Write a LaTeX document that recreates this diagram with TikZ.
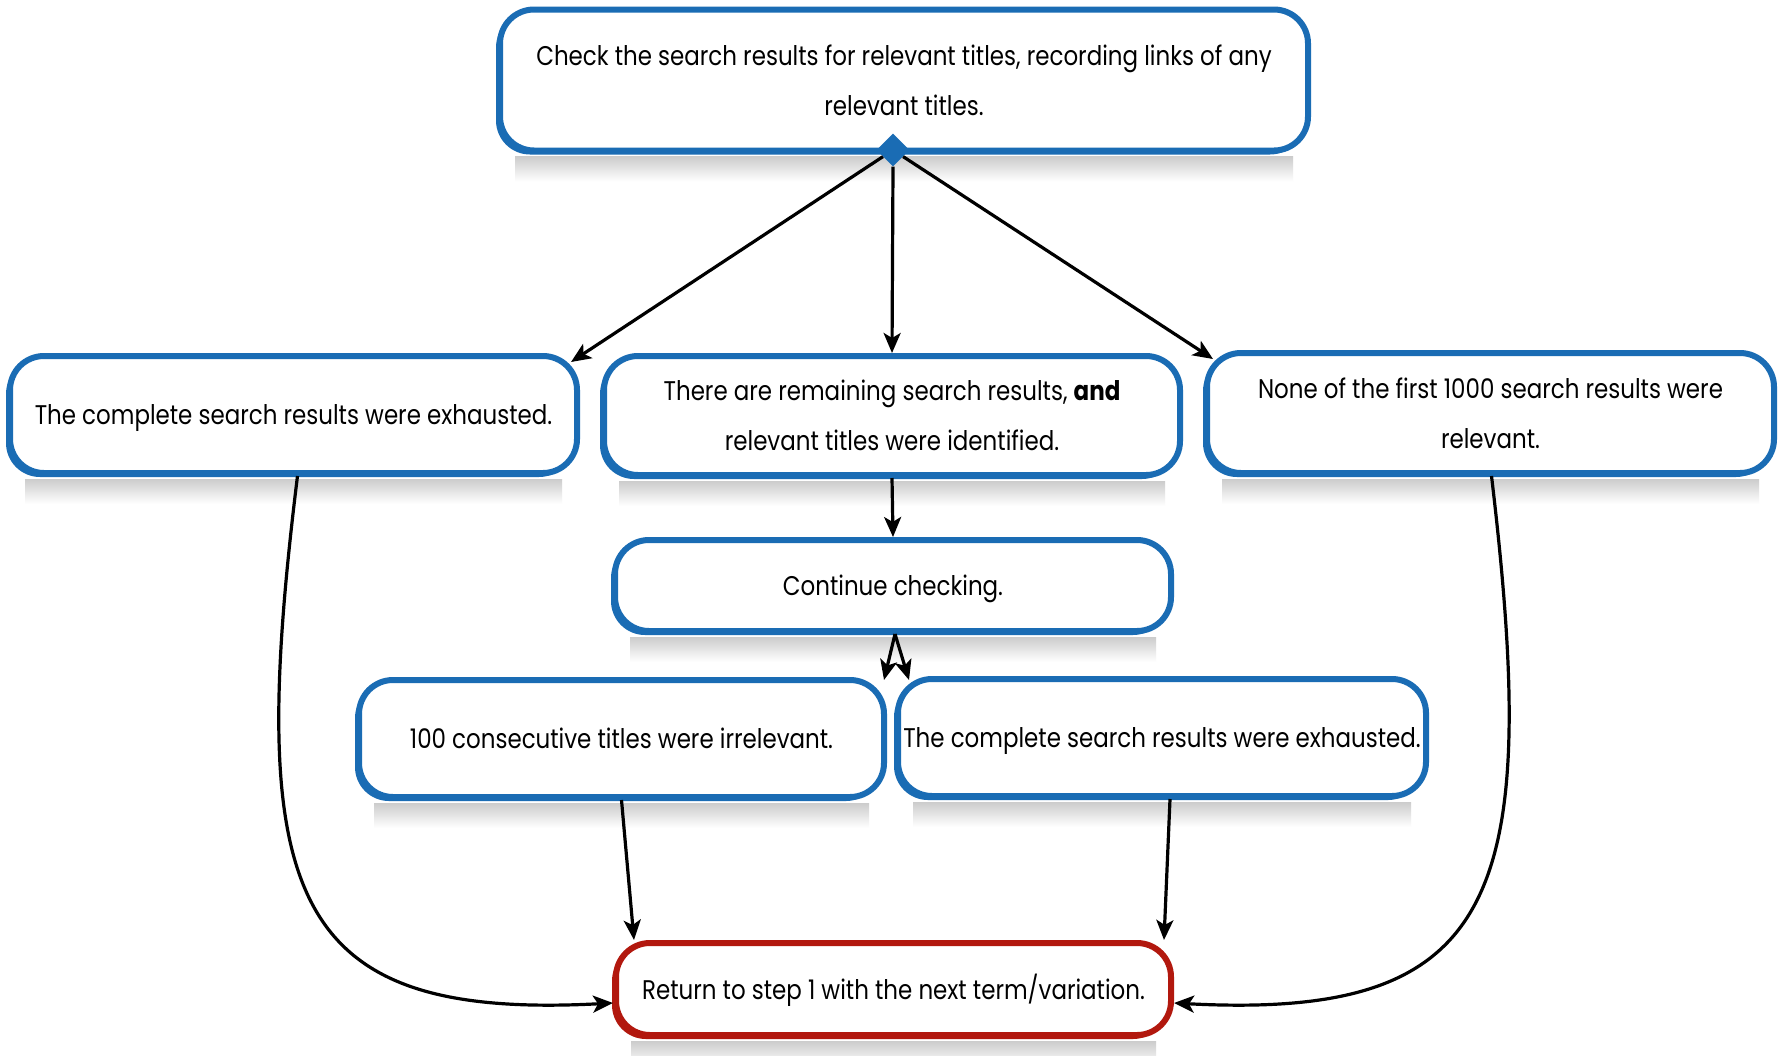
\documentclass[tikz,border=0pt]{standalone}
\usepackage{fontspec}
\setmainfont[FakeStretch=0.85]{Poppins}
\usetikzlibrary{arrows.meta,shapes.geometric,backgrounds}
\definecolor{boxblue}{RGB}{26,108,180}
\definecolor{boxred}{RGB}{178,24,14}
\begin{document}
\begin{tikzpicture}[x=1pt,y=-1pt,
  bxbase/.style={draw=#1, line width=6pt, fill=white, rounded corners=34pt,
    inner sep=0pt, align=center, font=\fontsize{27}{50}\selectfont,
    preaction={fill=#1, transform canvas={xshift=-4pt,yshift=-4pt}}},
  bx/.style={bxbase=boxblue},
  rbx/.style={bxbase=boxred},
  oneline/.style={text height=26pt, text depth=6pt},
  arr/.style={line width=3.2pt, -{Stealth[length=20pt,width=17pt,inset=5pt]}},
  shd/.style={top color=black!20, bottom color=white, draw=none}]
\useasboundingbox (0,0) rectangle (1784,1055);

\node[bx, minimum width=808pt, minimum height=141pt] (top) at (904,80)
  {Check the search results for relevant titles, recording links of any\\relevant titles.};
\node[diamond, fill=boxblue, minimum size=33pt, inner sep=0pt] (dm) at (893,150) {};

\node[bx, oneline, minimum width=567pt, minimum height=117pt] (A) at (293.5,414.5)
  {The complete search results were exhausted.};
\node[bx, minimum width=576pt, minimum height=119pt] (B) at (892,415.5)
  {There are remaining search results, \textbf{and}\\relevant titles were identified.};
\node[bx, minimum width=567pt, minimum height=120pt] (C) at (1490.5,413)
  {None of the first 1000 search results were\\relevant.};
\node[bx, oneline, minimum width=556pt, minimum height=91pt] (cont) at (893,585.5)
  {Continue checking.};
\node[bx, oneline, minimum width=525pt, minimum height=117pt] (D) at (621.5,738.5)
  {100 consecutive titles were irrelevant.};
\node[bx, oneline, minimum width=528pt, minimum height=117pt] (E) at (1162,737.5)
  {The complete search results were exhausted.};
\node[rbx, oneline, minimum width=555pt, minimum height=92pt] (R) at (893.5,989)
  {Return to step 1 with the next term/variation.};

\begin{pgfonlayer}{background}
  \fill[white] (0,0) rectangle (1784,1055);
  \foreach \n in {top,A,B,C,cont,D,E,R}
    \shade[shd] ([xshift=18pt,yshift=-3pt]\n.south west) rectangle ([xshift=-18pt,yshift=-28pt]\n.south east);
\end{pgfonlayer}

\draw[arr] (dm) -- ([xshift=-9pt,yshift=-9pt]A.north east);
\draw[arr] (dm.south) -- (B.north);
\draw[arr] (dm) -- ([xshift=9pt,yshift=-9pt]C.north west);
\draw[arr] (B.south) -- (cont.north);
\draw[arr] ([xshift=2pt]cont.south) -- ([xshift=-3pt,yshift=-3pt]D.north east);
\draw[arr] ([xshift=2pt]cont.south) -- ([xshift=14pt,yshift=-4pt]E.north west);
\draw[arr] ([xshift=4pt]A.south) .. controls (245,900) and (290,1020) .. ([yshift=-14pt]R.west);
\draw[arr] ([xshift=1pt]C.south) .. controls (1542,900) and (1497,1020) .. ([yshift=-14pt]R.east);
\draw[arr] (D.south) -- ([xshift=21pt]R.north west);
\draw[arr] ([xshift=8pt]E.south) -- ([xshift=-10pt]R.north east);
\end{tikzpicture}
\end{document}
